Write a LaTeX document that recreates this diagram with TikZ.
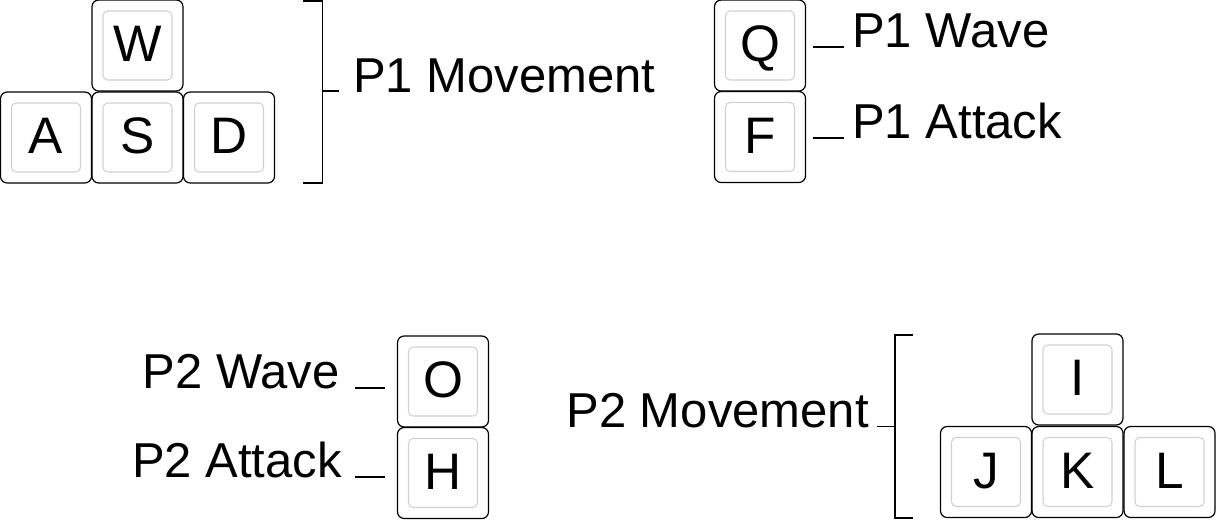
\documentclass[tikz,border=0pt]{standalone}
\usepackage{fontspec}
\setmainfont{Liberation Sans}
\begin{document}
\begin{tikzpicture}[x=0.75pt,y=-0.75pt,
  keycap/.style={draw, line width=0.9pt, rounded corners=5pt, minimum size=68.25pt, inner sep=0pt,
    font=\fontsize{38.5pt}{44pt}\selectfont, text height=27.6pt, text depth=3pt,
    path picture={\draw[black!18, line width=0.8pt, rounded corners=3.5pt]
      ([shift={(8.25pt,-8.25pt)}]path picture bounding box.north west) rectangle
      ([shift={(-8.25pt,8.25pt)}]path picture bounding box.south east);}},
  lbl/.style={inner sep=0pt, font=\fontsize{36.75pt}{44pt}\selectfont},
  tick/.style={line width=0.8pt}]
\useasboundingbox (0,0) rectangle (1216,519);
% player 1
\node[keycap] (w) at (137.5,45.5) {W};
\node[keycap] (a) at (46,137.5) {A};
\node[keycap] (s) at (137.5,137.5) {S};
\node[keycap] (d) at (229,137.5) {D};
\node[keycap] (q) at (760,45.5) {Q};
\node[keycap] (f) at (760,137) {F};
\node[lbl, anchor=base west] (move1) at (353,92) {P1 Movement};
\node[lbl, anchor=base west] (wave1) at (852,47) {P1 Wave};
\node[lbl, anchor=base west] (atk1) at (852,138) {P1 Attack};
\draw[tick] (303,1) -- (322.5,1) -- (322.5,183) -- (303,183);
\coordinate (brk1) at (322.5,91);
\draw[tick, shorten >=10.5pt] (brk1) -- (brk1 -| move1.west);
\draw[tick, shorten <=5.25pt, shorten >=6pt] (wave1.base west -| q.east) -- (wave1.base west);
\draw[tick, shorten <=5.25pt, shorten >=6pt] (atk1.base west -| f.east) -- (atk1.base west);
% player 2
\node[keycap] (o) at (443,381.5) {O};
\node[keycap] (h) at (443,473) {H};
\node[keycap] (i) at (1077.5,379.5) {I};
\node[keycap] (j) at (986,472) {J};
\node[keycap] (k) at (1077.5,472) {K};
\node[keycap] (l) at (1169.5,472) {L};
\node[lbl, anchor=base east] (wave2) at (340,388) {P2 Wave};
\node[lbl, anchor=base east] (atk2) at (342,477) {P2 Attack};
\node[lbl, anchor=base east] (move2) at (869,427) {P2 Movement};
\draw[tick] (913,335) -- (895,335) -- (895,518) -- (913,518);
\coordinate (brk2) at (895,426.5);
\draw[tick, shorten >=6pt] (brk2) -- (brk2 -| move2.east);
\draw[tick, shorten <=11.25pt, shorten >=9pt] (wave2.base east) -- (wave2.base east -| o.west);
\draw[tick, shorten <=9.75pt, shorten >=9pt] (atk2.base east) -- (atk2.base east -| h.west);
\end{tikzpicture}
\end{document}
